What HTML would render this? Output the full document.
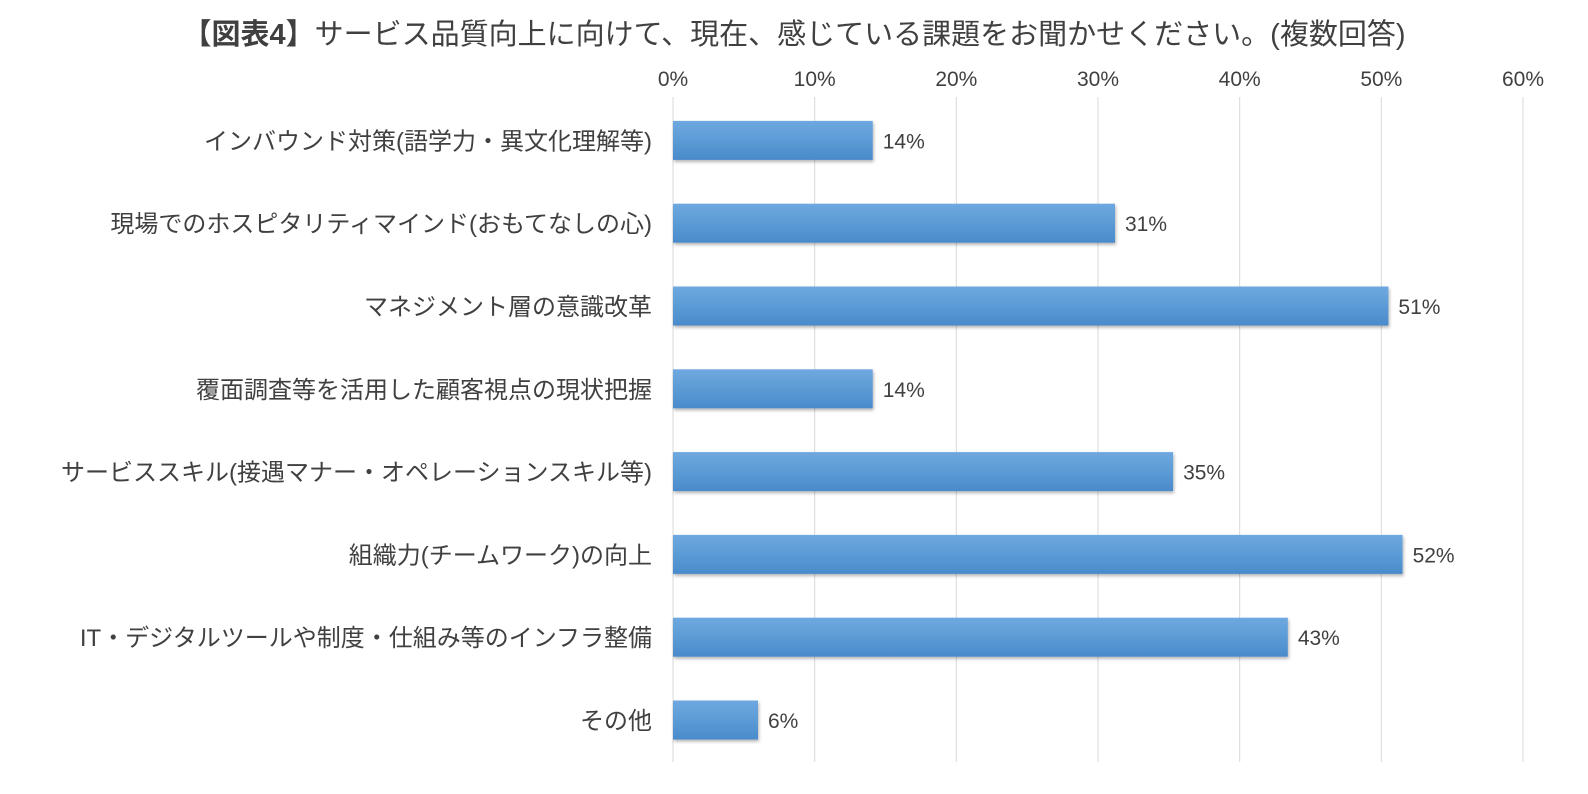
<!DOCTYPE html>
<html><head><meta charset="utf-8"><style>
body{margin:0;background:#fff;}
svg text{font-family:"Liberation Sans","Noto Sans CJK JP",sans-serif;fill:#404040;}
</style></head><body>
<svg id="chart" width="1588" height="789" xmlns="http://www.w3.org/2000/svg">
<defs>
<linearGradient id="g" x1="0" y1="0" x2="0" y2="1">
<stop offset="0" stop-color="#6fa8e0"/><stop offset="0.5" stop-color="#5b9bd5"/><stop offset="1" stop-color="#4a8acb"/>
</linearGradient>
<filter id="sh" x="-5%" y="-20%" width="110%" height="160%"><feDropShadow dx="1" dy="2" stdDeviation="1.5" flood-color="#000" flood-opacity="0.3"/></filter>
</defs>
<text x="794" y="44" text-anchor="middle" font-size="29" style="fill:#404040"><tspan font-weight="bold">【図表4】</tspan>サービス品質向上に向けて、現在、感じている課題をお聞かせください。(複数回答)</text>
<g id="grid"></g><g id="bars"></g>
</svg>
<script>
const categories=["インバウンド対策(語学力・異文化理解等)","現場でのホスピタリティマインド(おもてなしの心)","マネジメント層の意識改革","覆面調査等を活用した顧客視点の現状把握","サービススキル(接遇マナー・オペレーションスキル等)","組織力(チームワーク)の向上","IT・デジタルツールや制度・仕組み等のインフラ整備","その他"];
const values=[14.1,31.2,50.5,14.1,35.3,51.5,43.4,6.0];
const valueLabels=["14%","31%","51%","14%","35%","52%","43%","6%"];
const ticks=[0,10,20,30,40,50,60];
const tickLabels=["0%","10%","20%","30%","40%","50%","60%"];
const NS="http://www.w3.org/2000/svg";
const x0=673,x1=1523,xMax=60,plotTop=99,rowH=82.8,barH=39;
const xs=v=>x0+(x1-x0)*v/xMax;
const ys=i=>plotTop+rowH*i+rowH/2;
const grid=document.getElementById('grid'),bars=document.getElementById('bars');
function mk(t,a,p){const e=document.createElementNS(NS,t);for(const k in a)e.setAttribute(k,a[k]);p.appendChild(e);return e;}
ticks.forEach((t,i)=>{
 const l=mk('line',{x1:xs(t),x2:xs(t),y1:97,y2:762,stroke:'#d9d9d9','stroke-width':1},grid);
 
 
 const tx=mk('text',{x:xs(t),y:86,'text-anchor':'middle','font-size':21},grid);
 tx.textContent=tickLabels[i];
 
 
});
categories.forEach((c,i)=>{
 const y=ys(i);
 const lb=mk('text',{x:652,y:y+9,'text-anchor':'end','font-size':24},bars);
 lb.textContent=c;
 
 
 const r=mk('rect',{x:x0,y:y-barH/2,width:xs(values[i])-x0,height:barH,fill:'url(#g)',filter:'url(#sh)'},bars);
 
 
 const v=mk('text',{x:xs(values[i])+10,y:y+8,'font-size':21},bars);
 v.textContent=valueLabels[i];
 
 
});
</script>
</body></html>
